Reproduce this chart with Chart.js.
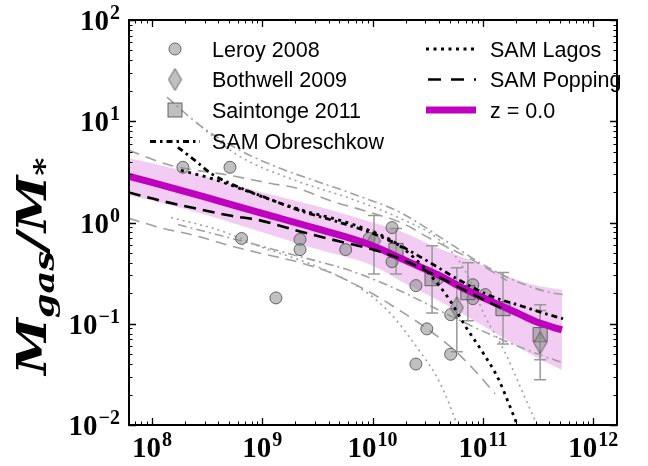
<!DOCTYPE html>
<html>
<head>
<meta charset="utf-8">
<script src="https://cdn.jsdelivr.net/npm/chart.js@4.4.0/dist/chart.umd.min.js"></script>
<style>
  html, body { margin: 0; padding: 0; background: #fff; }
  #wrap { width: 648px; height: 466px; }
</style>
</head>
<body>
<div id="wrap"><canvas id="myChart" width="648" height="466"></canvas></div>
<script>
// observed gas fractions
const leroyMass = [1.91e8, 5.1e8, 6.5e8, 1.33e9, 2.2e9, 2.2e9, 5.7e9, 9.3e9, 1.5e10, 1.5e10, 2.47e10, 3.9e10, 3.1e10, 5.1e10, 5.1e10, 2.47e10, 8.1e10, 8.1e10, 1.05e11];
const leroyRatio = [3.51, 3.51, 0.695, 0.18, 0.68, 0.54, 0.54, 0.695, 0.89, 0.41, 0.238, 0.279, 0.089, 0.123, 0.050, 0.040, 0.243, 0.177, 0.194];

const bothwellMass = [1.03e10, 5.8e10, 3.3e11];
const bothwellRatio = [0.66, 0.144, 0.065];
const bothwellHi = [1.17, 0.358, 0.154];
const bothwellLo = [0.31, 0.053, 0.028];

const saintongeMass = [1.63e10, 3.46e10, 7.3e10, 1.52e11, 3.3e11];
const saintongeRatio = [0.53, 0.279, 0.203, 0.141, 0.078];
const saintongeHi = [0.87, 0.59, 0.40, 0.32, 0.135];
const saintongeLo = [0.31, 0.128, 0.107, 0.063, 0.044];

// model curves
const zMass = [6.2e7, 1e8, 3e8, 1e9, 3e9, 1e10, 2e10, 4e10, 7e10, 1e11, 2e11, 3e11, 5.2e11];
const zMedian = [2.85, 2.49, 1.79, 1.23, 0.88, 0.59, 0.42, 0.30, 0.217, 0.181, 0.129, 0.105, 0.087];
const zUpper = [4.30, 3.84, 2.85, 1.98, 1.47, 1.0, 0.78, 0.553, 0.44, 0.375, 0.273, 0.238, 0.217];
const zLower = [1.85, 1.65, 1.20, 0.80, 0.553, 0.375, 0.249, 0.169, 0.12, 0.0955, 0.0605, 0.047, 0.035];

const lagosMass = [1.83e8, 3.43e8, 6.97e8, 1.39e9, 2.54e9, 5.06e9, 8.89e9, 1.6e10, 2.42e10, 3.68e10, 5.04e10, 6.89e10, 1e11, 1.38e11, 1.75e11, 2.05e11];
const lagosMed = [3.27, 2.73, 2.08, 1.58, 1.28, 1.05, 0.853, 0.634, 0.44, 0.267, 0.169, 0.0955, 0.0517, 0.0285, 0.0154, 0.01];
const lagosHiMass = [2.56e8, 6.03e8, 1.98e9, 6.24e9, 1.77e10, 4.08e10, 6.89e10, 1.04e11, 1.59e11, 2.26e11, 3.09e11];
const lagosHi = [9.55, 4.6, 2.61, 1.73, 1.10, 0.664, 0.335, 0.12, 0.0517, 0.0217, 0.01];
const lagosLoMass = [1.49e8, 4.14e8, 1.01e9, 1.9e9, 3.33e9, 6.64e9, 1.1e10, 1.6e10, 2.18e10, 2.86e10, 3.68e10, 4.53e10, 5.36e10, 5.82e10];
const lagosLo = [1.12, 0.834, 0.565, 0.45, 0.358, 0.249, 0.169, 0.112, 0.0726, 0.0482, 0.032, 0.0203, 0.0129, 0.01];

const poppingMass = [6.18e7, 1.18e8, 2.45e8, 5.09e8, 9.53e8, 2.2e9, 5.06e9, 1.01e10, 1.77e10, 3.31e10, 6.19e10, 1.16e11, 1.65e11];
const poppingMed = [1.98, 1.65, 1.38, 1.17, 1.05, 0.815, 0.649, 0.541, 0.44, 0.32, 0.227, 0.161, 0.135];
const poppingHiMass = [6.18e7, 1.49e8, 5.09e8, 1.2e9, 2.11e9, 4.11e9, 9.46e9, 1.89e10, 3.31e10, 7.64e10, 1.65e11];
const poppingHi = [5.16, 3.66, 2.92, 2.43, 2.17, 1.65, 1.26, 0.977, 0.695, 0.44, 0.267];
const poppingLoMass = [6.18e7, 1.18e8, 2.45e8, 5.09e8, 9.93e8, 2.2e9, 4.11e9, 8.89e9, 1.77e10, 3.31e10, 5.58e10, 8.47e10, 1.29e11];
const poppingLo = [1.10, 0.892, 0.743, 0.591, 0.493, 0.402, 0.32, 0.212, 0.135, 0.0853, 0.0541, 0.0343, 0.0203];

const obrMass = [1.72e8, 2.45e8, 3.43e8, 5.65e8, 1.06e9, 2.2e9, 5.06e9, 1.01e10, 1.77e10, 3.31e10, 6.19e10, 1.16e11, 2.17e11, 3.66e11, 5.32e11];
const obrMed = [5.53, 4.11, 3.05, 2.32, 1.77, 1.31, 1.0, 0.778, 0.591, 0.402, 0.267, 0.189, 0.151, 0.126, 0.112];
const obrHiMass = [1.37e8, 2.72e8, 6.28e8, 1.45e9, 3.33e9, 7.69e9, 1.77e10, 5.04e10, 1e11, 2.04e11, 4.06e11, 5.32e11];
const obrHi = [17.3, 9.12, 5.16, 3.43, 2.49, 1.81, 1.26, 0.619, 0.384, 0.261, 0.203, 0.194];
const obrLoMass = [1.72e8, 6.28e8, 2.2e9, 6.24e9, 1.77e10, 5.04e10, 1.43e11, 3.3e11, 5.32e11];
const obrLo = [0.955, 0.664, 0.46, 0.335, 0.212, 0.12, 0.071, 0.0493, 0.0411];

const xExps = [8, 9, 10, 11, 12];
const yExps = [-2, -1, 0, 1, 2];

const MAGENTA = '#bf00bf';
const GREY = '#a0a0a0';
const MARK_FILL = 'rgba(140,140,140,0.55)';
const MARK_EDGE = 'rgba(80,80,80,0.85)';
const DOT = [3, 4.5], DASH = [12, 7], DASHDOT = [6, 4, 2.5, 4];
const GDOT = [2, 4], GDASH = [11, 7], GDASHDOT = [9, 4, 2, 4];

const pts = (xs, ys) => xs.map((x, i) => ({ x: x, y: ys[i] }));

function makeDiamond(w, h) {
  const c = document.createElement('canvas');
  c.width = w + 2; c.height = h + 2;
  const g = c.getContext('2d');
  g.beginPath();
  g.moveTo(c.width / 2, 1);
  g.lineTo(c.width - 1, c.height / 2);
  g.lineTo(c.width / 2, c.height - 1);
  g.lineTo(1, c.height / 2);
  g.closePath();
  g.fillStyle = MARK_FILL; g.fill();
  g.strokeStyle = MARK_EDGE; g.lineWidth = 1; g.stroke();
  return c;
}
const diamond = makeDiamond(13, 22);

const curve = (label, xs, ys, color, width, dash, order) => ({
  label: label, data: pts(xs, ys), borderColor: color, borderWidth: width,
  borderDash: dash, pointRadius: 0, fill: false, order: order,
  cubicInterpolationMode: 'monotone', borderCapStyle: 'butt'
});

const datasets = [
  curve('SAM Obreschkow', obrMass, obrMed, '#000', 2.8, DASHDOT, 1),
  curve('SAM Lagos', lagosMass, lagosMed, '#000', 2.8, DOT, 2),
  curve('SAM Popping', poppingMass, poppingMed, '#000', 2.6, DASH, 3),
  curve('z = 0.0', zMass, zMedian, MAGENTA, 7, [], 4),
  { label: 'Bothwell 2009', data: pts(bothwellMass, bothwellRatio), showLine: false,
    pointStyle: diamond, pointRadius: 8, order: 5 },
  { label: 'Saintonge 2011', data: pts(saintongeMass, saintongeRatio), showLine: false,
    pointStyle: 'rect', pointRadius: 10, backgroundColor: MARK_FILL, borderColor: MARK_EDGE,
    borderWidth: 1, order: 6 },
  { label: 'Leroy 2008', data: pts(leroyMass, leroyRatio), showLine: false,
    pointStyle: 'circle', pointRadius: 6, backgroundColor: MARK_FILL, borderColor: MARK_EDGE,
    borderWidth: 1, order: 7 },
  curve('Obreschkow hi', obrHiMass, obrHi, GREY, 1.6, GDASHDOT, 8),
  curve('Obreschkow lo', obrLoMass, obrLo, GREY, 1.6, GDASHDOT, 9),
  curve('Lagos hi', lagosHiMass, lagosHi, GREY, 1.6, GDOT, 10),
  curve('Lagos lo', lagosLoMass, lagosLo, GREY, 1.6, GDOT, 11),
  curve('Popping hi', poppingHiMass, poppingHi, GREY, 1.6, GDASH, 12),
  curve('Popping lo', poppingLoMass, poppingLo, GREY, 1.6, GDASH, 13),
  { label: 'z upper', data: pts(zMass, zUpper), borderWidth: 0, pointRadius: 0,
    fill: '+1', backgroundColor: 'rgba(191,0,191,0.2)', cubicInterpolationMode: 'monotone', order: 14 },
  { label: 'z lower', data: pts(zMass, zLower), borderWidth: 0, pointRadius: 0,
    fill: false, cubicInterpolationMode: 'monotone', order: 15 }
];

// error bars under the markers
const errorBars = {
  id: 'errorBars',
  beforeDatasetDraw(chart, args) {
    if (args.meta.label !== 'Leroy 2008') return;
    const ctx = chart.ctx, xs = chart.scales.x, ys = chart.scales.y;
    ctx.save();
    ctx.strokeStyle = '#999';
    ctx.lineWidth = 1.5;
    const bars = (mass, hi, lo) => mass.forEach((m, i) => {
      const px = xs.getPixelForValue(m);
      const top = ys.getPixelForValue(hi[i]), bot = ys.getPixelForValue(lo[i]);
      ctx.beginPath();
      ctx.moveTo(px, top); ctx.lineTo(px, bot);
      ctx.moveTo(px - 6, top); ctx.lineTo(px + 6, top);
      ctx.moveTo(px - 6, bot); ctx.lineTo(px + 6, bot);
      ctx.stroke();
    });
    bars(saintongeMass, saintongeHi, saintongeLo);
    bars(bothwellMass, bothwellHi, bothwellLo);
    ctx.restore();
  }
};

function powLabel(ctx, exp, x, y, align) {
  const sup = exp < 0 ? '\u2212' + (-exp) : String(exp);
  ctx.font = 'bold 29px "Liberation Serif"';
  const wb = ctx.measureText('10').width;
  ctx.font = 'bold 20px "Liberation Serif"';
  const ws = ctx.measureText(sup).width;
  const total = wb + 1 + ws;
  const x0 = align === 'center' ? x - total / 2 : x - total;
  ctx.font = 'bold 29px "Liberation Serif"';
  ctx.fillText('10', x0, y);
  ctx.font = 'bold 20px "Liberation Serif"';
  ctx.fillText(sup, x0 + wb + 1, y - 11);
}

// frame, inward ticks, tick labels and y title
const frame = {
  id: 'frame',
  afterDraw(chart) {
    const ctx = chart.ctx, a = chart.chartArea;
    const xs = chart.scales.x, ys = chart.scales.y;
    ctx.save();
    ctx.strokeStyle = '#000';
    const tick = (len, lw, fn) => { ctx.lineWidth = lw; ctx.beginPath(); fn(len); ctx.stroke(); };
    for (let e = 7; e <= 12; e++) {
      for (let k = 1; k <= 9; k++) {
        const v = k * Math.pow(10, e);
        if (v < xs.min || v > xs.max) continue;
        const px = Math.round(xs.getPixelForValue(v)) + 0.5;
        tick(k === 1 ? 7 : 3.5, k === 1 ? 1.3 : 1, len => {
          ctx.moveTo(px, a.bottom); ctx.lineTo(px, a.bottom - len);
          ctx.moveTo(px, a.top); ctx.lineTo(px, a.top + len);
        });
      }
    }
    for (let e = -2; e <= 2; e++) {
      for (let k = 1; k <= 9; k++) {
        const v = k * Math.pow(10, e);
        if (v < ys.min || v > ys.max) continue;
        const py = Math.round(ys.getPixelForValue(v)) + 0.5;
        tick(k === 1 ? 7 : 3.5, k === 1 ? 1.3 : 1, len => {
          ctx.moveTo(a.left, py); ctx.lineTo(a.left + len, py);
          ctx.moveTo(a.right, py); ctx.lineTo(a.right - len, py);
        });
      }
    }
    ctx.lineWidth = 2;
    ctx.strokeRect(a.left, a.top, a.right - a.left, a.bottom - a.top);

    ctx.fillStyle = '#000';
    ctx.textBaseline = 'alphabetic';
    xExps.forEach(e => powLabel(ctx, e, xs.getPixelForValue(Math.pow(10, e)), 457, 'center'));
    yExps.forEach(e => powLabel(ctx, e, 120, ys.getPixelForValue(Math.pow(10, e)) + 10, 'right'));

    // y axis title, M_gas / M_*
    ctx.translate(46, 266);
    ctx.rotate(-Math.PI / 2);
    const big = 'bold italic 41px "DejaVu Serif"', small = 'bold italic 28px "DejaVu Serif"';
    const parts = [['M', big, 0], ['gas', small, 8], ['/', big, 0], ['M', big, 0], ['*', small, 8]];
    let total = 0;
    parts.forEach(p => { ctx.font = p[1]; p.w = ctx.measureText(p[0]).width; total += p.w; });
    const k = Math.min(1.25, 244 / total);
    ctx.scale(k, 1);
    let x = -total / 2;
    parts.forEach(p => { ctx.font = p[1]; ctx.fillText(p[0], x, p[2]); x += p.w; });
    ctx.restore();
  }
};

// two-column legend inside the axes
const legendBox = {
  id: 'legendBox',
  afterDraw(chart) {
    const ctx = chart.ctx;
    ctx.save();
    const sample = (x0, x1, y, color, width, dash) => {
      ctx.strokeStyle = color; ctx.lineWidth = width; ctx.setLineDash(dash); ctx.lineCap = 'butt';
      ctx.beginPath(); ctx.moveTo(x0, y); ctx.lineTo(x1, y); ctx.stroke();
    };
    ctx.fillStyle = MARK_FILL; ctx.strokeStyle = MARK_EDGE; ctx.lineWidth = 1;
    ctx.beginPath(); ctx.arc(175, 49, 6, 0, Math.PI * 2); ctx.fill(); ctx.stroke();
    ctx.drawImage(diamond, 175 - diamond.width / 2, 79.5 - diamond.height / 2);
    ctx.fillRect(168, 103, 14, 14); ctx.strokeRect(168, 103, 14, 14);
    sample(150, 200, 141.5, '#000', 2.8, DASHDOT);
    sample(426, 476, 49, '#000', 2.8, DOT);
    sample(428, 476, 79.5, '#000', 2.6, [13, 10]);
    sample(426, 476, 110, MAGENTA, 7, []);
    ctx.setLineDash([]);
    ctx.fillStyle = '#000';
    ctx.font = '21.5px "Liberation Sans", Arial, sans-serif';
    ctx.textBaseline = 'alphabetic';
    [['Leroy 2008', 49], ['Bothwell 2009', 79.5], ['Saintonge 2011', 110], ['SAM Obreschkow', 141.5]]
      .forEach(r => ctx.fillText(r[0], 212, r[1] + 7.7));
    [['SAM Lagos', 49], ['SAM Popping', 79.5], ['z = 0.0', 110]]
      .forEach(r => ctx.fillText(r[0], 490, r[1] + 7.7));
    ctx.restore();
  }
};

new Chart(document.getElementById('myChart'), {
  type: 'line',
  data: { datasets: datasets },
  options: {
    responsive: false,
    animation: false,
    devicePixelRatio: 1,
    layout: { padding: { left: 129, right: 31, top: 20, bottom: 41 } },
    scales: {
      x: { type: 'logarithmic', min: 6.2e7, max: 1.64e12, display: false },
      y: { type: 'logarithmic', min: 0.01, max: 100, display: false }
    },
    plugins: { legend: { display: false }, tooltip: { enabled: false } }
  },
  plugins: [errorBars, frame, legendBox]
});
</script>
</body>
</html>
